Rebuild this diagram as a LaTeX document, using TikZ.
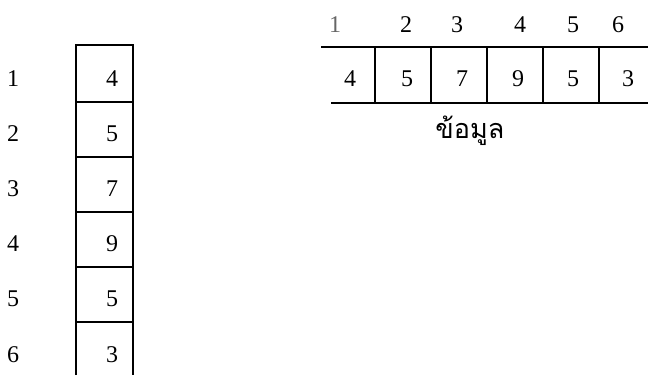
\documentclass[tikz,border=0pt]{standalone}
\usepackage{fontspec}
\setmainfont{Liberation Serif}
\newfontfamily\thaifont[Script=Thai]{Loma}
\begin{document}
\begin{tikzpicture}[x=1pt,y=-1pt,
  num/.style={font=\fontsize{24}{24}\selectfont, inner sep=0pt, anchor=center},
  thin box/.style={line width=1.4pt},
  thick box/.style={line width=2.6pt}]
\useasboundingbox (0,0) rectangle (648,375);
% left column
\draw[thin box] (76,375) -- (76,45) -- (133,45) -- (133,375);
\foreach \y in {102,157,212,267,322} \draw[thin box] (76,\y) -- (133,\y);
\foreach \i/\v/\y in {1/4/79,2/5/134,3/7/189,4/9/244,5/5/299,6/3/355} {
  \node[num] (li\i) at (13,\y) {\i};
  \node[num] (lv\i) at (112,\y) {\v};
}
% right row
\draw[thick box] (321,47) -- (648,47);
\draw[thick box] (331,103) -- (648,103);
\foreach \x in {375,431,487,543,599} \draw[thick box] (\x,47) -- (\x,103);
\foreach \i/\v/\xv in {1/4/350,2/5/407,3/7/462,4/9/518,5/5/573,6/3/628} {
  \node[num] (rv\i) at (\xv,79) {\v};
}
\node[num, text=black!60] (ri1) at (335,25) {1};
\node[num] (ri2) at (406,25) {2};
\node[num] (ri3) at (457,25) {3};
\node[num] (ri4) at (520,25) {4};
\node[num] (ri5) at (573,25) {5};
\node[num] (ri6) at (618,25) {6};
\node[font=\thaifont\fontsize{27}{27}\selectfont, inner sep=0pt] (lbl) at (470,131) {ข้อมูล};
\end{tikzpicture}
\end{document}
